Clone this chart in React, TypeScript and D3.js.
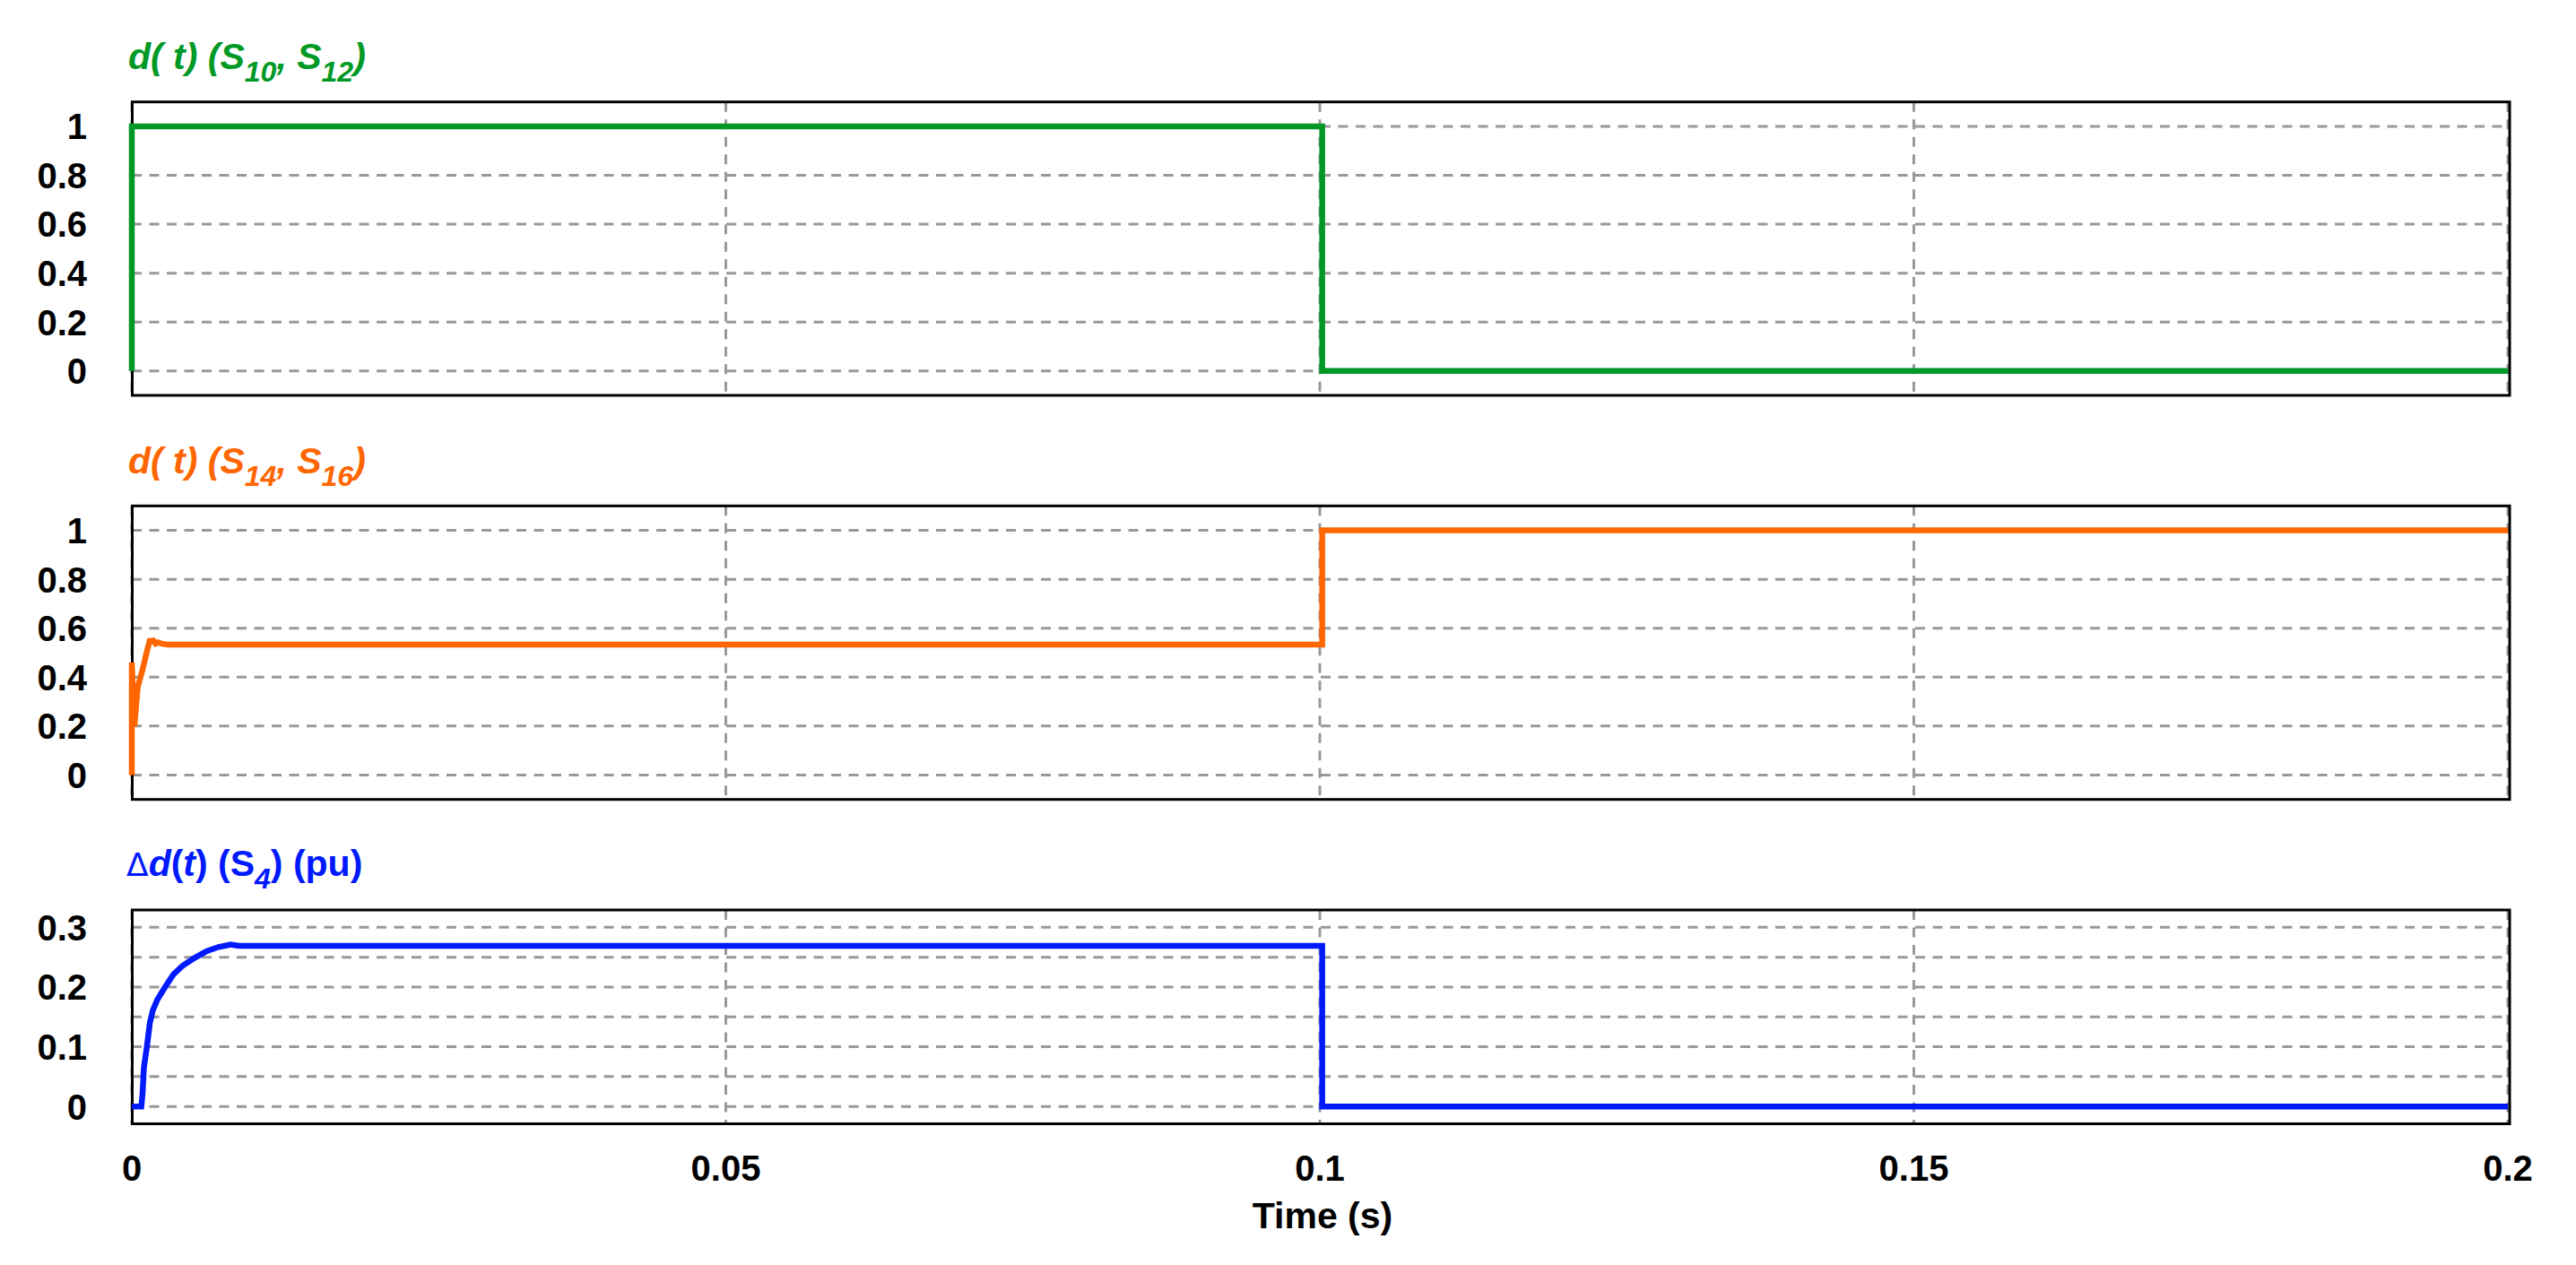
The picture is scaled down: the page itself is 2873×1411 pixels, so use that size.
import { useEffect, useRef } from 'react';
import * as d3 from 'd3';

const W = 2873;
const H = 1411;

// time axis
const xTicks = [0, 0.05, 0.1, 0.15, 0.2];
const xTickLabels = ['0', '0.05', '0.1', '0.15', '0.2'];

// panel 1 : d(t) (S10, S12)
const greenT = [0, 0, 0.1002, 0.1002, 0.2];
const greenV = [0, 1, 1, 0, 0];

// panel 2 : d(t) (S14, S16)
const orangeT = [0, 0, 0.00022, 0.0005, 0.0009, 0.00127, 0.0015, 0.0018, 0.002, 0.0022, 0.0025, 0.003, 0.1002, 0.1002, 0.2];
const orangeV = [0, 0.46, 0.2, 0.36, 0.43, 0.505, 0.548, 0.55, 0.537, 0.542, 0.537, 0.533, 0.533, 1, 1];

// panel 3 : delta d(t) (S4) (pu)
const blueT = [0, 0.0008, 0.0009, 0.00102, 0.00127, 0.00152, 0.00177, 0.00215, 0.0028, 0.0035, 0.0043, 0.0053, 0.0063, 0.0073, 0.0083, 0.009, 0.1002, 0.1002, 0.2];
const blueV = [0, 0, 0.02, 0.066, 0.1, 0.14, 0.161, 0.179, 0.2, 0.221, 0.236, 0.249, 0.26, 0.267, 0.271, 0.269, 0.269, 0, 0];

const ticksA = [0, 0.2, 0.4, 0.6, 0.8, 1];
const labelsA = ['0', '0.2', '0.4', '0.6', '0.8', '1'];
const gridB = [0, 0.05, 0.1, 0.15, 0.2, 0.25, 0.3];
const ticksB = [0, 0.1, 0.2, 0.3];
const labelsB = ['0', '0.1', '0.2', '0.3'];

type Seg = { t: string; it?: boolean; sub?: boolean; thin?: boolean };

const title1: Seg[] = [
  { t: 'd', it: true }, { t: '( ', it: true }, { t: 't', it: true }, { t: ') (S', it: true },
  { t: '10', it: true, sub: true }, { t: ', S', it: true }, { t: '12', it: true, sub: true }, { t: ')', it: true },
];
const title2: Seg[] = [
  { t: 'd', it: true }, { t: '( ', it: true }, { t: 't', it: true }, { t: ') (S', it: true },
  { t: '14', it: true, sub: true }, { t: ', S', it: true }, { t: '16', it: true, sub: true }, { t: ')', it: true },
];
const title3: Seg[] = [
  { t: '\u0394', thin: true }, { t: 'd', it: true }, { t: '(' }, { t: 't', it: true }, { t: ') (S' },
  { t: '4', it: true, sub: true }, { t: ') (pu)' },
];

const panels = [
  { top: 113.7, bottom: 441, domain: [-0.1, 1.1], grid: ticksA, ticks: ticksA, labels: labelsA, T: greenT, V: greenV, color: '#009926', title: title1, titleY: 77, titleX: 143 },
  { top: 564.3, bottom: 891.7, domain: [-0.1, 1.1], grid: ticksA, ticks: ticksA, labels: labelsA, T: orangeT, V: orangeV, color: '#ff6600', title: title2, titleY: 528, titleX: 143 },
  { top: 1015, bottom: 1253.5, domain: [-0.029, 0.329], grid: gridB, ticks: ticksB, labels: labelsB, T: blueT, V: blueV, color: '#0019ff', title: title3, titleY: 977, titleX: 141 },
];

const FONT = '"Liberation Sans", Arial, sans-serif';

function App() {
  const ref = useRef<SVGSVGElement>(null);

  useEffect(() => {
    const svg = d3.select(ref.current);
    svg.selectAll('*').remove();

    const x = d3.scaleLinear().domain([0, 0.2]).range([147, 2797]);

    panels.forEach((p) => {
      const y = d3.scaleLinear().domain(p.domain).range([p.bottom, p.top]);
      const g = svg.append('g');

      // dashed grid
      g.selectAll('.hg')
        .data(p.grid)
        .join('line')
        .attr('x1', x(0))
        .attr('x2', x(0.2))
        .attr('y1', (d) => y(d))
        .attr('y2', (d) => y(d))
        .attr('stroke', '#999')
        .attr('stroke-width', 3)
        .attr('stroke-dasharray', '11,8.5');
      g.selectAll('.vg')
        .data(xTicks)
        .join('line')
        .attr('x1', (d) => x(d))
        .attr('x2', (d) => x(d))
        .attr('y1', p.top)
        .attr('y2', p.bottom)
        .attr('stroke', '#999')
        .attr('stroke-width', 3)
        .attr('stroke-dasharray', '11,8.5');

      // frame
      g.append('rect')
        .attr('x', x(0) + 0.5)
        .attr('y', p.top)
        .attr('width', x(0.2) + 2 - x(0) - 0.5)
        .attr('height', p.bottom - p.top)
        .attr('fill', 'none')
        .attr('stroke', '#000')
        .attr('stroke-width', 3);

      // y tick labels
      g.selectAll('.yl')
        .data(p.ticks)
        .join('text')
        .attr('x', 97)
        .attr('y', (d) => y(d))
        .attr('dy', '0.36em')
        .attr('text-anchor', 'end')
        .attr('font-family', FONT)
        .attr('font-weight', 'bold')
        .attr('font-size', 40)
        .text((d, i) => p.labels[i]);

      // trace
      const pts = p.T.map((t, i) => [t, p.V[i]] as [number, number]);
      const line = d3
        .line<[number, number]>()
        .x((d) => x(d[0]))
        .y((d) => y(d[1]));
      g.append('path')
        .attr('d', line(pts))
        .attr('fill', 'none')
        .attr('stroke', p.color)
        .attr('stroke-width', 6.5)
        .attr('stroke-linejoin', 'miter');

      // title
      const tt = g
        .append('text')
        .attr('x', p.titleX)
        .attr('y', p.titleY)
        .attr('fill', p.color)
        .attr('font-family', FONT)
        .attr('font-weight', 'bold')
        .attr('font-size', 41)
        .attr('xml:space', 'preserve')
        .style('white-space', 'pre');
      p.title.forEach((s, i) => {
        const prevSub = i > 0 && p.title[i - 1].sub;
        const span = tt.append('tspan').text(s.t);
        if (s.it) span.attr('font-style', 'italic');
        if (s.thin) span.attr('font-weight', 'normal').attr('font-family', '"DejaVu Sans", sans-serif').attr('font-size', 36);
        if (s.sub) span.attr('font-size', 32).attr('dy', 14);
        else if (prevSub) span.attr('dy', -14);
      });
    });

    // x tick labels
    svg
      .selectAll('.xl')
      .data(xTicks)
      .join('text')
      .attr('x', (d) => x(d))
      .attr('y', 1317)
      .attr('text-anchor', 'middle')
      .attr('font-family', FONT)
      .attr('font-weight', 'bold')
      .attr('font-size', 40)
      .text((d, i) => xTickLabels[i]);

    svg
      .append('text')
      .attr('x', 1475)
      .attr('y', 1370)
      .attr('text-anchor', 'middle')
      .attr('font-family', FONT)
      .attr('font-weight', 'bold')
      .attr('font-size', 41)
      .text('Time (s)');
  }, []);

  return (
    <svg
      ref={ref}
      width={W}
      height={H}
      style={{ position: 'absolute', left: 0, top: 0, background: '#fff' }}
    />
  );
}

export default App;
